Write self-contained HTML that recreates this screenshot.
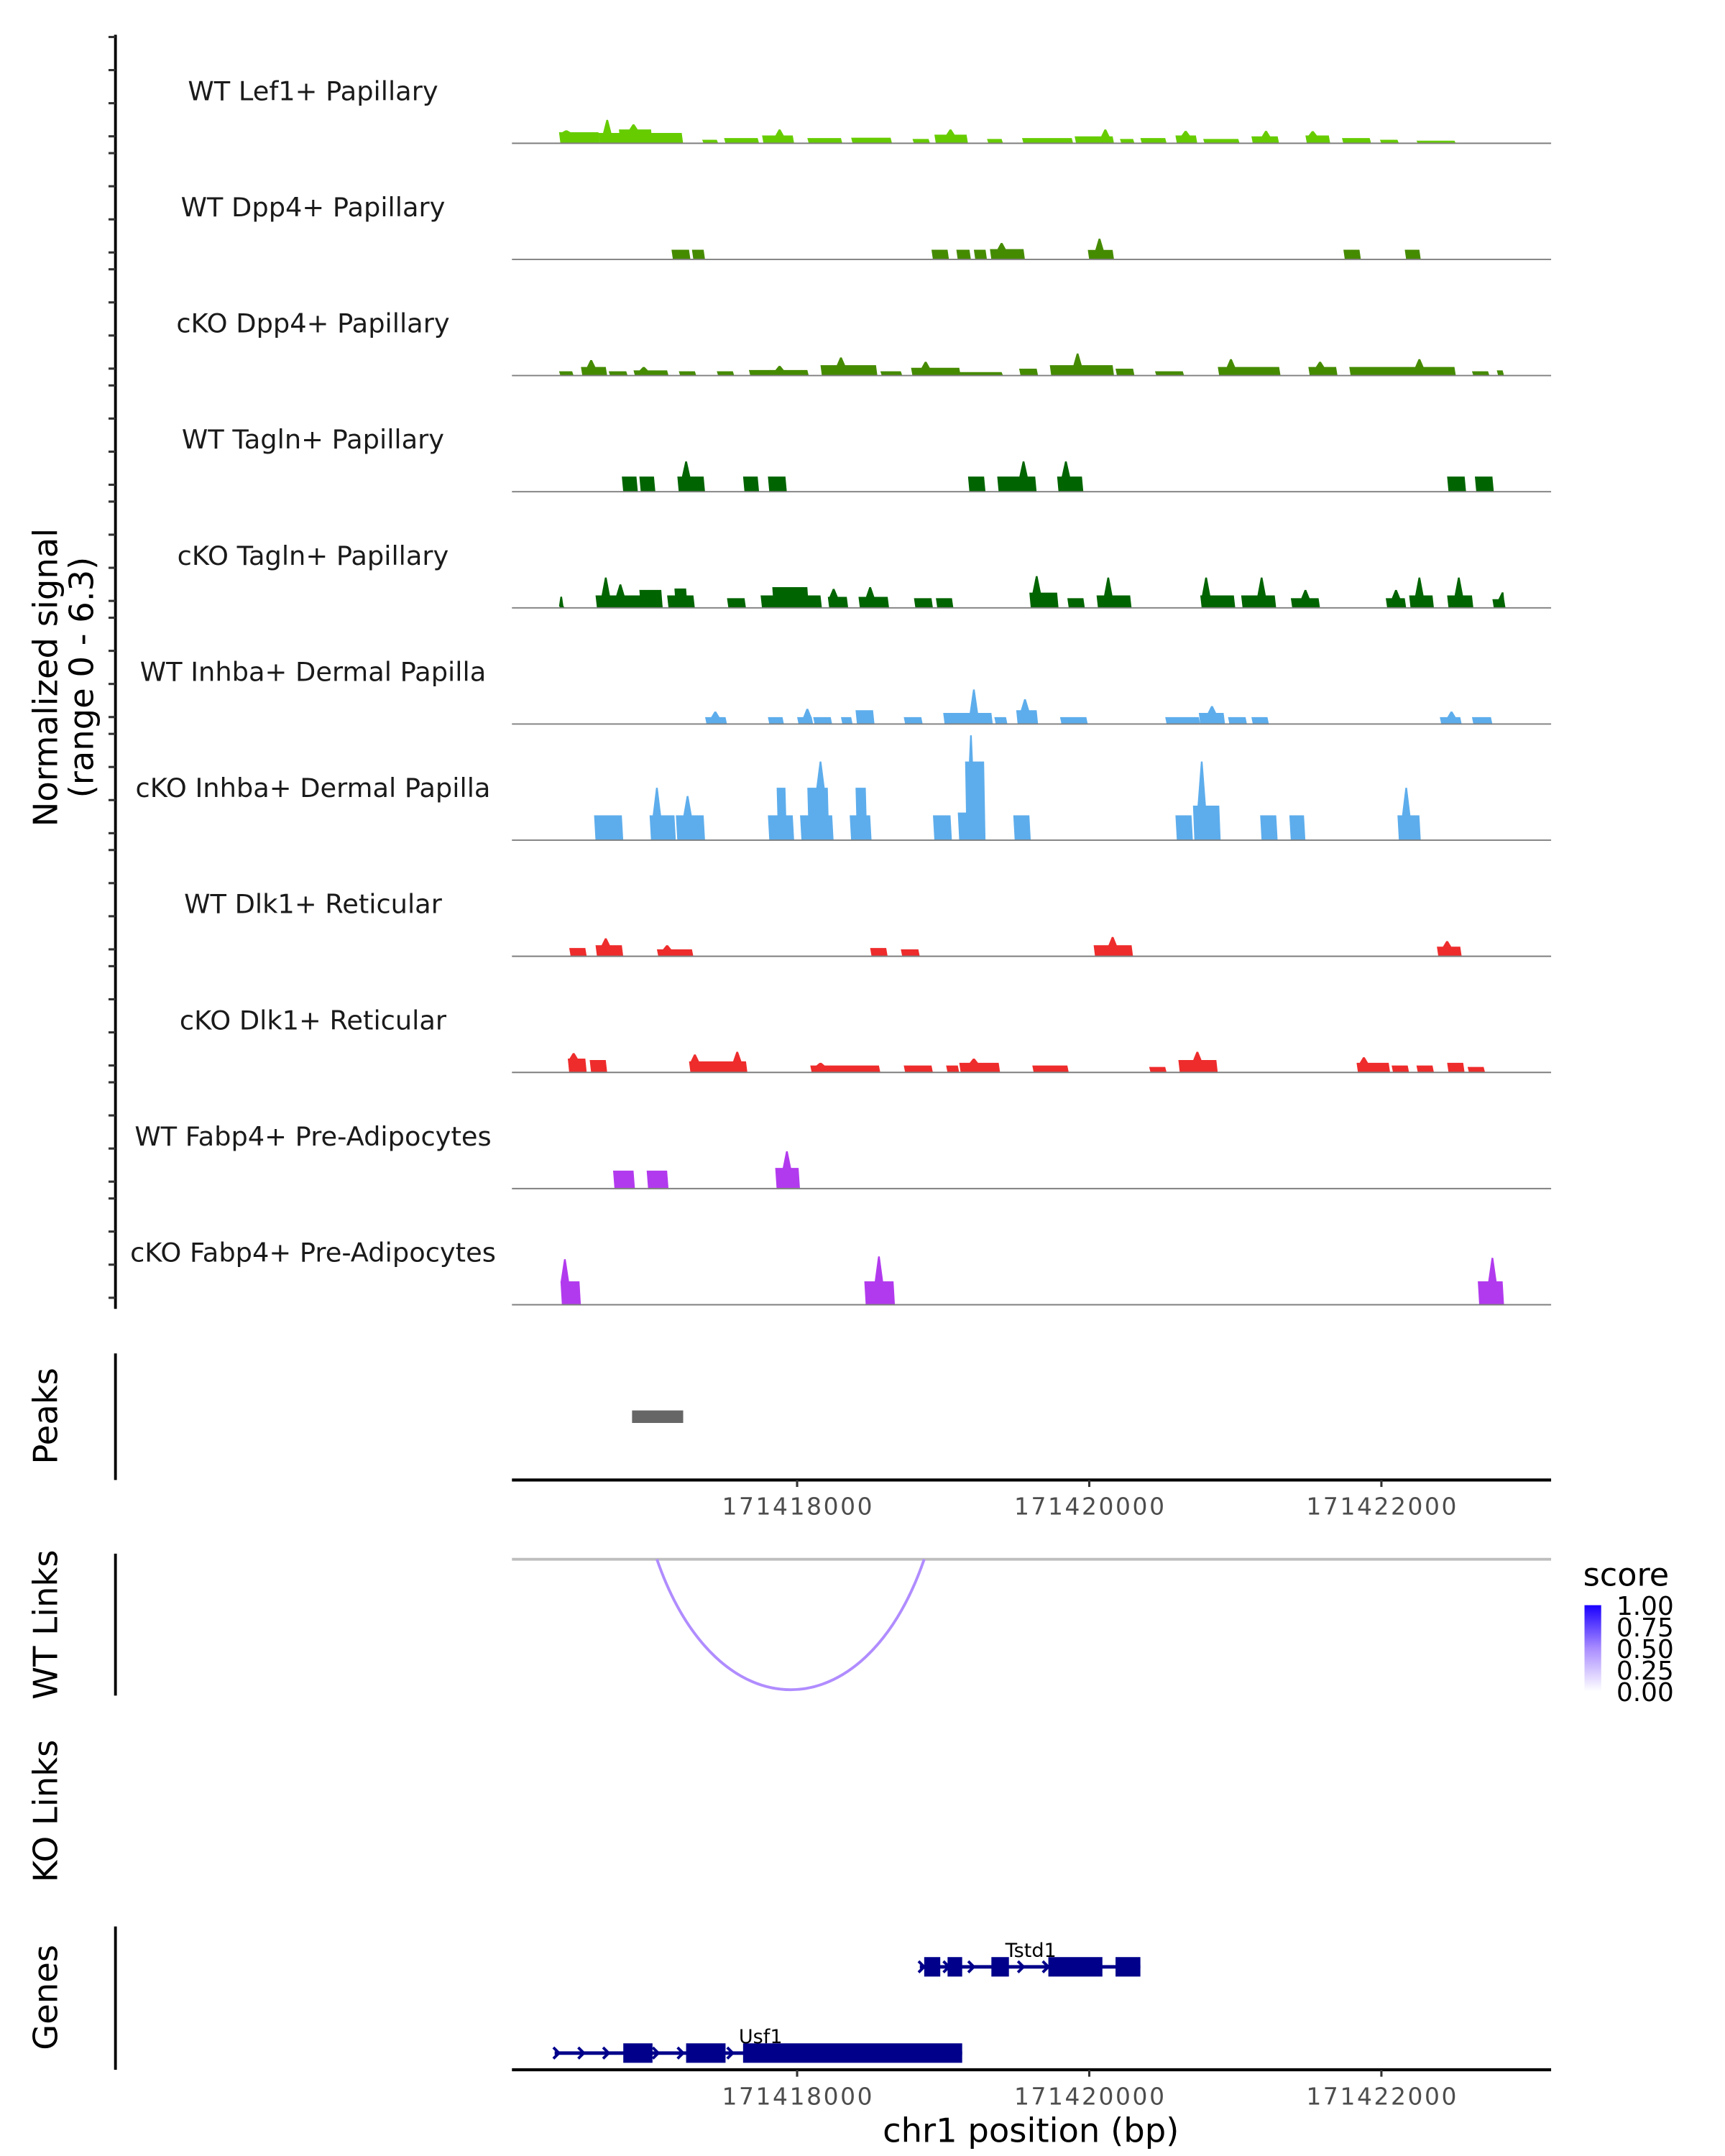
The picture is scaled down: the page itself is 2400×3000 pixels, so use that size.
<!DOCTYPE html>
<html><head><meta charset="utf-8">
<style>
html,body{margin:0;padding:0;background:#fff;}
svg{display:block;font-family:"DejaVu Sans","Liberation Sans",sans-serif;}
</style></head>
<body>
<svg id="fig" xmlns="http://www.w3.org/2000/svg" width="2400" height="3000" viewBox="0 0 1240 1550">
<rect width="1240" height="1550" fill="#fff"/>
<g id="tracks"></g>
<line x1="83" y1="25" x2="83" y2="941" stroke="#000" stroke-width="2"/>
<g id="yticks"></g>
<text transform="translate(41,487) rotate(-90)" text-anchor="middle" font-size="24" fill="#000">Normalized signal</text>
<text transform="translate(67,487) rotate(-90)" text-anchor="middle" font-size="24" fill="#000">(range 0 - 6.3)</text>

<!-- Peaks -->
<line x1="83" y1="973" x2="83" y2="1064" stroke="#000" stroke-width="2"/>
<text transform="translate(41,1018) rotate(-90)" text-anchor="middle" font-size="24">Peaks</text>
<g id="peaks"></g>
<line x1="368" y1="1064" x2="1115" y2="1064" stroke="#000" stroke-width="2.2"/>
<g id="xt1"></g>

<!-- WT links -->
<line x1="83" y1="1117" x2="83" y2="1219" stroke="#000" stroke-width="2"/>
<text transform="translate(41,1168) rotate(-90)" text-anchor="middle" font-size="24">WT Links</text>
<line x1="368" y1="1121" x2="1115" y2="1121" stroke="#bebebe" stroke-width="2"/>
<g id="links"></g>

<!-- legend -->
<g>
<defs><linearGradient id="sg" x1="0" y1="1" x2="0" y2="0"><stop offset="0" stop-color="#ffffff"/><stop offset="0.5" stop-color="#a98cff"/><stop offset="1" stop-color="#1a00ff"/></linearGradient></defs>
<text x="1138" y="1140" font-size="23">score</text>
<rect x="1139" y="1154" width="12" height="62" fill="url(#sg)"/>
<g font-size="18.5" fill="#000">
<text x="1162" y="1161">1.00</text>
<text x="1162" y="1176.5">0.75</text>
<text x="1162" y="1192">0.50</text>
<text x="1162" y="1207.5">0.25</text>
<text x="1162" y="1223">0.00</text>
</g>
</g>

<!-- KO links -->
<text transform="translate(41,1302) rotate(-90)" text-anchor="middle" font-size="24">KO Links</text>

<!-- Genes -->
<line x1="83" y1="1385" x2="83" y2="1488" stroke="#000" stroke-width="2"/>
<text transform="translate(41,1436) rotate(-90)" text-anchor="middle" font-size="24">Genes</text>
<g id="genes"></g>
<line x1="368" y1="1488" x2="1115" y2="1488" stroke="#000" stroke-width="2.2"/>
<g id="xt2"></g>
<text x="741" y="1540" text-anchor="middle" font-size="24">chr1 position (bp)</text>
</svg>
<script>
// genomic positions given in kb offset from 171418000
const REF = 171418000;
const xTicks = [171418000, 171420000, 171422000];
const trackNames = ["WT Lef1+ Papillary","WT Dpp4+ Papillary","cKO Dpp4+ Papillary","WT Tagln+ Papillary","cKO Tagln+ Papillary","WT Inhba+ Dermal Papilla","cKO Inhba+ Dermal Papilla","WT Dlk1+ Reticular","cKO Dlk1+ Reticular","WT Fabp4+ Pre-Adipocytes","cKO Fabp4+ Pre-Adipocytes"];
const trackColors = ["#66CC00","#458B00","#458B00","#006400","#006400","#5DADEC","#5DADEC","#EE2C2C","#EE2C2C","#B23AEE","#B23AEE"];
// segments: [startKb, endKb, value, peakKb?, peakValue?]
const sigLef1WT = [[-1.63,-1.36,0.64,-1.58,0.75],[-1.36,-0.79,0.6,-1.30,1.36],[-1.22,-1.0,0.8,-1.12,1.1],[-0.65,-0.55,0.2],[-0.50,-0.27,0.3],[-0.24,-0.03,0.45,-0.12,0.8],[0.07,0.30,0.3],[0.37,0.64,0.32],[0.79,0.90,0.25],[0.94,1.16,0.5,1.05,0.8],[1.30,1.40,0.25],[1.54,1.88,0.3],[1.90,2.16,0.4,2.11,0.8],[2.21,2.30,0.25],[2.35,2.52,0.3],[2.59,2.73,0.45,2.66,0.72],[2.78,3.02,0.25],[3.11,3.29,0.4,3.21,0.72],[3.48,3.64,0.45,3.53,0.7],[3.73,3.92,0.3],[3.99,4.11,0.2],[4.24,4.50,0.15]];
const sigDpp4WT = [[-0.86,-0.74,0.56],[-0.72,-0.64,0.56],[0.92,1.03,0.56],[1.09,1.18,0.56],[1.21,1.29,0.56],[1.32,1.55,0.6,1.40,0.95],[1.99,2.16,0.55,2.07,1.2],[3.74,3.85,0.56],[4.16,4.26,0.56]];
const sigDpp4KO = [[-1.63,-1.54,0.25],[-1.48,-1.31,0.5,-1.41,0.9],[-1.29,-1.17,0.25],[-1.12,-0.89,0.3,-1.05,0.5],[-0.81,-0.70,0.25],[-0.55,-0.44,0.25],[-0.33,0.07,0.32,-0.12,0.56],[0.16,0.54,0.6,0.30,1.05],[0.57,0.71,0.25],[0.78,1.11,0.45,0.88,0.8],[1.11,1.40,0.2],[1.52,1.64,0.4],[1.73,2.16,0.6,1.92,1.28],[2.18,2.30,0.4],[2.45,2.64,0.25],[2.88,3.30,0.5,2.97,0.95],[3.50,3.69,0.5,3.58,0.8],[3.78,4.50,0.5,4.26,0.95],[4.62,4.73,0.25],[4.79,4.83,0.3]];
const sigTaglnWT = [[-1.20,-1.10,0.88],[-1.08,-0.98,0.88],[-0.82,-0.64,0.88,-0.76,1.76],[-0.37,-0.27,0.88],[-0.20,-0.08,0.88],[1.17,1.28,0.88],[1.37,1.63,0.88,1.55,1.76],[1.78,1.95,0.88,1.84,1.76],[4.45,4.57,0.88],[4.64,4.76,0.88]];
const sigTaglnKO = [[-1.63,-1.60,0.1,-1.615,0.65],[-1.38,-0.93,0.72,-1.31,1.76],[-1.26,-1.16,0.72,-1.21,1.36],[-1.08,-0.93,1.04],[-0.89,-0.71,0.72],[-0.84,-0.76,1.12],[-0.48,-0.36,0.56],[-0.25,0.16,0.72,-0.08,1.2],[-0.17,0.07,1.2],[0.21,0.34,0.64,0.25,1.1],[0.42,0.62,0.64,0.50,1.2],[0.80,0.92,0.56],[0.95,1.06,0.56],[1.59,1.78,0.88,1.64,1.84],[1.85,1.96,0.56],[2.05,2.28,0.72,2.13,1.76],[2.76,2.99,0.72,2.80,1.76],[3.04,3.27,0.72,3.18,1.76],[3.38,3.57,0.56,3.48,1.04],[4.03,4.16,0.56,4.10,1.04],[4.19,4.35,0.72,4.26,1.76],[4.45,4.62,0.72,4.53,1.76],[4.76,4.84,0.5,4.83,0.9]];
const sigInhbaWT = [[-0.63,-0.49,0.4,-0.56,0.72],[-0.20,-0.10,0.4],[0.00,0.10,0.4,0.07,0.88],[0.11,0.23,0.4],[0.30,0.37,0.4],[0.40,0.52,0.8],[0.73,0.85,0.4],[1.00,1.33,0.64,1.21,2.0],[1.35,1.43,0.4],[1.50,1.64,0.8,1.56,1.44],[1.80,1.98,0.4],[2.52,2.75,0.4],[2.75,2.92,0.64,2.84,1.04],[2.95,3.07,0.4],[3.11,3.22,0.4],[4.40,4.54,0.4,4.48,0.72],[4.62,4.75,0.4]];
const sigInhbaKO = [[-1.39,-1.20,1.44],[-1.01,-0.84,1.44,-0.96,3.04],[-0.83,-0.64,1.44,-0.75,2.56],[-0.20,-0.03,1.44],[-0.14,-0.08,3.04],[0.02,0.24,1.44],[0.07,0.21,3.04,0.16,4.56],[0.36,0.50,1.44],[0.40,0.47,3.04],[0.93,1.05,1.44],[1.10,1.28,1.6,1.19,6.08],[1.15,1.28,4.56],[1.48,1.59,1.44],[2.59,2.70,1.44],[2.71,2.89,2.0,2.77,4.56],[3.17,3.28,1.44],[3.37,3.47,1.44],[4.11,4.26,1.44,4.17,3.04]];
const sigDlk1WT = [[-1.56,-1.45,0.48],[-1.38,-1.20,0.64,-1.31,1.04],[-0.96,-0.72,0.4,-0.89,0.64],[0.50,0.61,0.48],[0.71,0.83,0.4],[2.03,2.29,0.64,2.16,1.12],[4.38,4.54,0.56,4.45,0.88]];
const sigDlk1KO = [[-1.57,-1.45,0.8,-1.53,1.12],[-1.42,-1.31,0.72],[-0.74,-0.35,0.64,-0.70,1.04],[-0.44,-0.36,0.64,-0.41,1.2],[0.09,0.56,0.4,0.16,0.56],[0.73,0.92,0.4],[1.02,1.10,0.4],[1.11,1.38,0.56,1.21,0.8],[1.61,1.85,0.4],[2.41,2.52,0.32],[2.61,2.87,0.72,2.74,1.2],[3.83,4.05,0.56,3.88,0.88],[4.07,4.18,0.4],[4.24,4.35,0.4],[4.45,4.56,0.56],[4.59,4.70,0.32]];
const sigFabp4WT = [[-1.26,-1.12,1.04],[-1.03,-0.89,1.04],[-0.15,0.01,1.2,-0.07,2.16]];
const sigFabp4KO = [[-1.62,-1.49,1.36,-1.59,2.64],[0.46,0.66,1.36,0.56,2.8],[4.66,4.83,1.36,4.76,2.72]];
const trackSignals = [sigLef1WT,sigDpp4WT,sigDpp4KO,sigTaglnWT,sigTaglnKO,sigInhbaWT,sigInhbaKO,sigDlk1WT,sigDlk1KO,sigFabp4WT,sigFabp4KO];
const peakRegions = [[-1.13,-0.78]];
const linkStart = -0.96, linkEnd = 0.87, linkScore = 0.45;
// genes: exons [startKb,endKb]
const tstd1Span = [0.84, 2.35];
const tstd1Exons = [[0.87,0.98],[1.03,1.13],[1.33,1.45],[1.72,2.09],[2.18,2.35]];
const usf1Span = [-1.66, 1.13];
const usf1Exons = [[-1.19,-0.99],[-0.76,-0.49],[-0.37,1.13]];

const NS = "http://www.w3.org/2000/svg";
const X0 = 573, PXKB = 105, TOP = 103, STEP = 83.5, VPX = 12.4;
function xs(kb){ return X0 + kb*PXKB; }
function xbp(bp){ return xs((bp-REF)/1000); }
function mk(tag, attrs, parent){ const e=document.createElementNS(NS,tag); for(const k in attrs) e.setAttribute(k,attrs[k]); parent.appendChild(e); return e; }

const tg = document.getElementById('tracks');
trackNames.forEach((name,i)=>{
  const b = TOP + i*STEP;
  const g = mk('g',{},tg);
  
  
  const t = mk('text',{x:225,y:b-31,'text-anchor':'middle','font-size':19,fill:'#1a1a1a'},g);
  t.textContent = name;
  
  
  trackSignals[i].forEach(s=>{
    const x1=xs(s[0]), x2=xs(s[1]), y=b - s[2]*VPX;
    let pts = [[x1+1,b],[x1,y]];
    if(s.length>3){
      const pc=xs(s[3]), py=b-s[4]*VPX;
      pts.push([Math.max(x1,pc-3),y],[pc-0.6,py],[pc+0.6,py],[Math.min(x2,pc+3),y]);
    }
    pts.push([x2,y],[x2+1,b]);
    const p = mk('polygon',{points:pts.map(q=>q.join(',')).join(' '),fill:trackColors[i]},g);
    
    
  });
  const l = mk('line',{x1:368,y1:b,x2:1115,y2:b,stroke:'#7f7f7f','stroke-width':1},g);
  
  
  for(let k=0;k<4;k++){
    const yy = b-5-k*23.8;
    const tk = mk('line',{x1:78,y1:yy,x2:83,y2:yy,stroke:'#333','stroke-width':1.6},document.getElementById('yticks'));
    
    
  }
});

const pg = document.getElementById('peaks');
peakRegions.forEach(r=>{
  const rr = mk('rect',{x:xs(r[0]),y:1014,width:xs(r[1])-xs(r[0]),height:9,fill:'#666'},pg);
  
  
});

['xt1','xt2'].forEach((id,j)=>{
  const ay = j===0?1064:1488;
  const g = document.getElementById(id);
  xTicks.forEach(v=>{
    const x = xbp(v);
    const l = mk('line',{x1:x,y1:ay,x2:x,y2:ay+5,stroke:'#333','stroke-width':1.6},g);
    
    
    const t = mk('text',{x:x,y:ay+25,'text-anchor':'middle','font-size':17,fill:'#4d4d4d',textLength:108},g);
    t.textContent = String(v);
    
    
  });
});

const lg = document.getElementById('links');
{
  const a=xs(linkStart), c=xs(linkEnd), m=(a+c)/2, depth=94;
  const arc = mk('path',{d:`M${a},1121 C${a+(m-a)*0.45},${1121+depth*1.33} ${c-(c-m)*0.45},${1121+depth*1.33} ${c},1121`,fill:'none',stroke:'#b08cff','stroke-width':2},lg);
  
  
}

const gg = document.getElementById('genes');
function drawGene(name, span, exons, y, labelKb){
  const g = mk('g',{},gg);
  
  
  const c='#00008B';
  mk('line',{x1:xs(span[0]),y1:y,x2:xs(span[1]),y2:y,stroke:c,'stroke-width':2.5},g);
  for(let kb=span[0]+0.02; kb<span[1]; kb+=0.17){
    const x=xs(kb);
    mk('polyline',{points:`${x-3},${y-4} ${x+1},${y} ${x-3},${y+4}`,fill:'none',stroke:c,'stroke-width':2},g);
  }
  exons.forEach(e=>{
    const r = mk('rect',{x:xs(e[0]),y:y-7,width:xs(e[1])-xs(e[0]),height:14,fill:c},g);
    
    
  });
  const t = mk('text',{x:xs(labelKb),y:y-7,'text-anchor':'middle','font-size':14,fill:'#000'},g);
  t.textContent = name;
  
  
}
drawGene('Tstd1', tstd1Span, tstd1Exons, 1414, 1.6);
drawGene('Usf1', usf1Span, usf1Exons, 1476, -0.25);
</script>
</body></html>
